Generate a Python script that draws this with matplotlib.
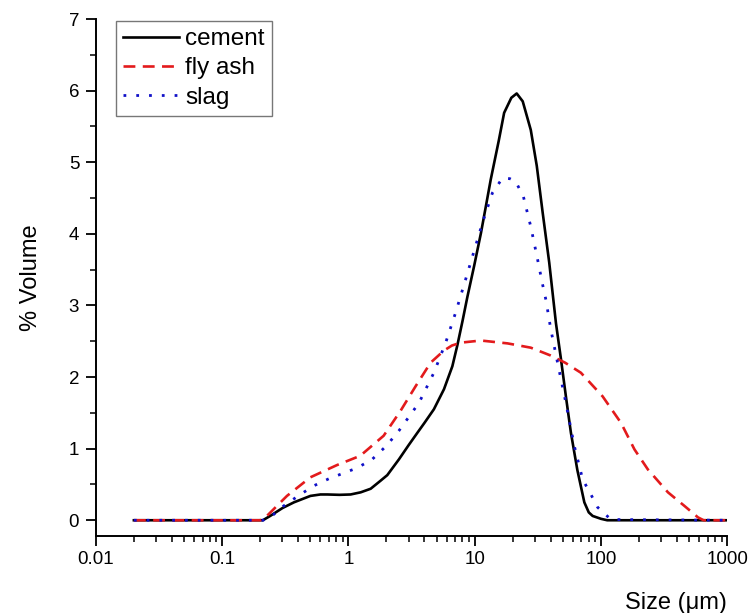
import matplotlib
matplotlib.use("Agg")
import matplotlib.pyplot as plt
from matplotlib.ticker import LogLocator, MultipleLocator, FixedFormatter, FixedLocator
import numpy as np

plt.rcParams['font.family'] = ['Liberation Sans', 'DejaVu Sans']

# particle size distributions (size in um, % volume)
cement_size = [0.02, 0.21, 0.24, 0.30, 0.37, 0.5, 0.6, 0.68, 0.85, 1.04, 1.25, 1.5,
               1.79, 2.03, 2.51, 3.0, 3.51, 4.0, 4.75, 5.71, 6.65, 7.3, 8.0, 8.75,
               9.89, 11.2, 12.3, 13.4, 15.5, 17.1, 19.5, 21.5, 24, 27.8, 31, 34.5,
               38.9, 44, 48.2, 53, 57.8, 65, 73.8, 80, 85.9, 100, 112, 1000]
cement_vol = [0, 0, 0.06, 0.17, 0.25, 0.34, 0.36, 0.36, 0.355, 0.36, 0.39, 0.44,
              0.55, 0.63, 0.85, 1.05, 1.22, 1.36, 1.55, 1.83, 2.15, 2.45, 2.78, 3.12,
              3.55, 4.01, 4.4, 4.76, 5.3, 5.69, 5.9, 5.96, 5.85, 5.45, 4.95, 4.3,
              3.6, 2.75, 2.25, 1.7, 1.22, 0.7, 0.25, 0.11, 0.06, 0.02, 0, 0]

flyash_size = [0.02, 0.2, 0.226, 0.326, 0.5, 0.81, 1.24, 1.9, 2.59, 3.4, 4.47, 5.71,
               6.6, 7.74, 11.2, 18.2, 27.8, 40, 52, 69.3, 103, 144, 184, 235, 339, 458,
               586, 650, 1000]
flyash_vol = [0, 0, 0.06, 0.34, 0.6, 0.77, 0.9, 1.18, 1.53, 1.87, 2.2, 2.37,
              2.44, 2.48, 2.51, 2.47, 2.41, 2.3, 2.2, 2.06, 1.73, 1.36, 0.99, 0.71, 0.39,
              0.2, 0.04, 0, 0]

slag_size = [0.02, 0.21, 0.24, 0.307, 0.40, 0.53, 0.70, 0.89, 1.17, 1.54, 2.0, 2.51,
             3.62, 4.75, 5.89, 7.06, 8.33, 9.77, 11.5, 13.8, 16.6, 19, 21.1, 24.3,
             27.8, 31.4, 34.4, 36.6, 40.1, 45.3, 52.7, 61.4, 71.6, 83.2, 94.1, 120, 1000]
slag_vol = [0, 0, 0.04, 0.2, 0.34, 0.48, 0.58, 0.65, 0.73, 0.85, 1.04, 1.25,
            1.64, 2.06, 2.48, 2.9, 3.32, 3.73, 4.15, 4.57, 4.78, 4.77, 4.73, 4.52,
            4.1, 3.65, 3.3, 3.08, 2.66, 2.2, 1.64, 1.04, 0.57, 0.36, 0.18, 0.01, 0]

fig = plt.figure(figsize=(7.49, 6.13), dpi=100)
ax = fig.add_axes([0.128, 0.1256, 0.843, 0.8434])

ax.plot(cement_size, cement_vol, color='black', lw=1.9, label='cement')
ax.plot(flyash_size, flyash_vol, color='#e31a1c', lw=1.9, linestyle=(0, (4.5, 2.8)),
        label='fly ash')
ax.plot(slag_size, slag_vol, color='#1010c8', lw=2.0, linestyle=(0, (1, 3.6)),
        label='slag')

ax.set_xscale('log')
ax.set_xlim(0.01, 1000)
ax.set_ylim(-0.22, 7)

xt = [0.01, 0.1, 1, 10, 100, 1000]
ax.xaxis.set_major_locator(FixedLocator(xt))
ax.xaxis.set_major_formatter(FixedFormatter(['0.01', '0.1', '1', '10', '100', '1000']))
ax.xaxis.set_minor_locator(LogLocator(base=10, subs=np.arange(2, 10), numticks=20))
ax.yaxis.set_major_locator(MultipleLocator(1))
ax.yaxis.set_minor_locator(MultipleLocator(0.5))

for s in ['top', 'right']:
    ax.spines[s].set_visible(False)
for s in ['left', 'bottom']:
    ax.spines[s].set_linewidth(1.4)

ax.tick_params(which='major', direction='out', length=7, width=1.3, labelsize=13.5, pad=4)
ax.tick_params(which='minor', direction='out', length=4.5, width=1.1)
ax.tick_params(axis='y', which='major', pad=5)

ax.set_ylabel('% Volume', fontsize=17, labelpad=19)
ax.set_xlabel('Size (\u03bcm)', fontsize=17, loc='right', labelpad=17)

leg = ax.legend(loc='upper left', bbox_to_anchor=(0.032, 0.996), borderaxespad=0,
                fontsize=17.5, handlelength=2.3, handletextpad=0.25, labelspacing=0.29,
                fancybox=False, frameon=True, borderpad=0.3)
leg.get_frame().set_edgecolor('#555555')
leg.get_frame().set_linewidth(1.0)

fig.savefig('out.png', dpi=100)
